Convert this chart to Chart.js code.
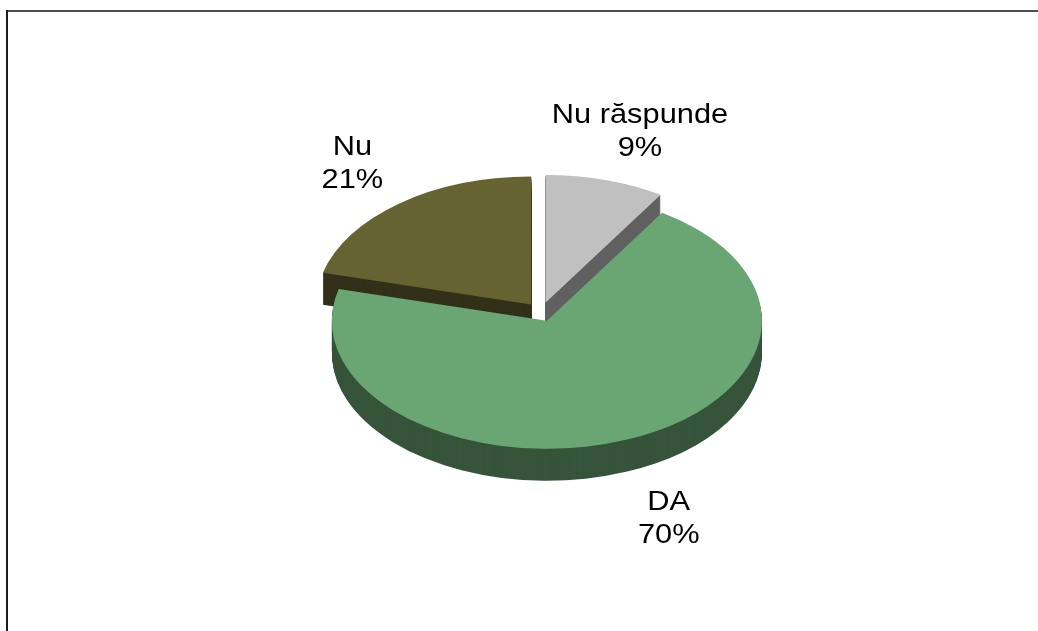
<!DOCTYPE html>
<html>
<head>
<meta charset="utf-8">
<script src="https://cdn.jsdelivr.net/npm/chart.js@4.4.1/dist/chart.umd.min.js"></script>
<style>
  html, body { margin: 0; padding: 0; background: #fff; overflow: hidden; }
  #wrap { position: absolute; left: 0; top: 0; width: 1038px; height: 631px; }
</style>
</head>
<body>
<div id="wrap">
  <canvas id="chart"></canvas>
</div>
<script>
// answers, clockwise from 12 o'clock
const labels = ['Nu răspunde', 'DA', 'Nu'];
const percents = [9, 70, 21];

const topColors = ['#C0C0C0', '#6AA674', '#666333'];
const sideColors = ['#606060', '#36543A', '#33301A'];

const TILT = 0.595;    // vertical squash of the pie
const DEPTH = 32;      // thickness in px
const EXPLODE = 16;    // how far each slice is pulled out
const LABEL_RX = 1.5;  // label distance, in radii
const LABEL_RY = 1.47;
const LABEL_SHIFT = 9;

function sliceShift(arc) {
  const mid = (arc.startAngle + arc.endAngle) / 2;
  return { dx: Math.cos(mid) * EXPLODE, dy: Math.sin(mid) * EXPLODE, mid };
}

function drawSlice(ctx, arc, down, color) {
  const s = sliceShift(arc);
  ctx.save();
  ctx.translate(s.dx, s.dy + down);
  if (color) {
    const saved = arc.options;
    arc.options = Object.assign({}, saved, { backgroundColor: color });
    arc.draw(ctx);
    arc.options = saved;
  } else {
    arc.draw(ctx);
  }
  ctx.restore();
}

// outline of the chart box (top and left edges)
const frame = {
  id: 'frame',
  beforeDraw(chart) {
    const ctx = chart.ctx;
    ctx.save();
    ctx.fillStyle = '#505050';
    ctx.fillRect(6, 10, chart.width - 6, 2);
    ctx.fillStyle = '#1c1c1c';
    ctx.fillRect(6, 10, 2, chart.height - 10);
    ctx.restore();
  }
};

// draw the pie tilted, with a side wall under every slice
const pie3d = {
  id: 'pie3d',
  beforeDatasetsDraw(chart) {
    const ctx = chart.ctx;
    const arcs = chart.getDatasetMeta(0).data;
    const { x, y } = arcs[0];
    ctx.save();
    ctx.translate(x, y);
    ctx.scale(1, TILT);
    ctx.translate(-x, -y);
    [1, 0, 2].forEach(i => {
      for (let d = DEPTH; d >= 1; d--) {
        drawSlice(ctx, arcs[i], d / TILT, sideColors[i]);
      }
    });
    arcs.forEach(arc => drawSlice(ctx, arc, 0, null));
    ctx.restore();
    return false;
  }
};

const sliceLabels = {
  id: 'sliceLabels',
  afterDraw(chart) {
    const ctx = chart.ctx;
    const arcs = chart.getDatasetMeta(0).data;
    ctx.save();
    ctx.fillStyle = '#000';
    ctx.font = '28px "Liberation Sans", Arial, sans-serif';
    ctx.textAlign = 'center';
    ctx.textBaseline = 'middle';
    arcs.forEach((arc, i) => {
      const mid = (arc.startAngle + arc.endAngle) / 2;
      const r = arc.outerRadius;
      const lx = arc.x + LABEL_SHIFT + Math.cos(mid) * r * LABEL_RX;
      let ly = arc.y + Math.sin(mid) * r * TILT * LABEL_RY;
      if (Math.sin(mid) > 0) ly += DEPTH;
      ctx.save();
      ctx.translate(lx, ly);
      ctx.scale(1.1, 1);
      ctx.fillText(labels[i], 0, -16.5);
      ctx.fillText(percents[i] + '%', 0, 16.5);
      ctx.restore();
    });
    ctx.restore();
  }
};

new Chart(document.querySelector('#chart'), {
  type: 'pie',
  data: {
    labels: labels,
    datasets: [{
      data: percents,
      backgroundColor: topColors,
      borderWidth: 0,
      radius: 215
    }]
  },
  options: {
    responsive: true,
    maintainAspectRatio: false,
    animation: false,
    events: [],
    layout: { padding: { left: 44, right: 0, top: 0, bottom: 7 } },
    plugins: {
      legend: { display: false },
      tooltip: { enabled: false }
    }
  },
  plugins: [frame, pie3d, sliceLabels]
});
</script>
</body>
</html>
